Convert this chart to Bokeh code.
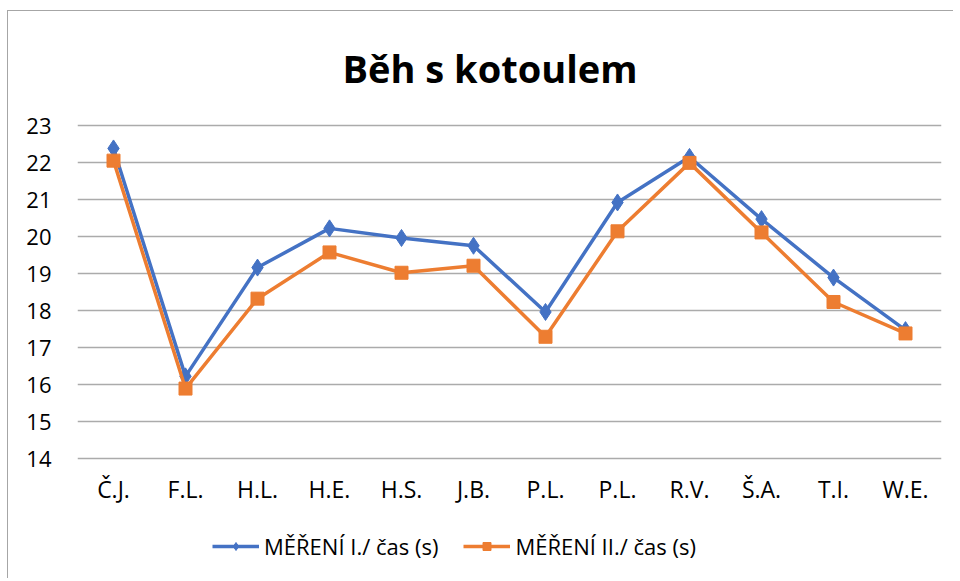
from bokeh.plotting import figure
from bokeh.models import Range1d, FixedTicker, Legend, LegendItem
from bokeh.embed import file_html
from bokeh.resources import INLINE

names = ["Č.J.", "F.L.", "H.L.", "H.E.", "H.S.", "J.B.", "P.L.", "P.L.", "R.V.", "Š.A.", "T.I.", "W.E."]
mereni1 = [22.38, 16.22, 19.16, 20.22, 19.96, 19.75, 17.96, 20.92, 22.15, 20.47, 18.89, 17.47]
mereni2 = [22.05, 15.89, 18.32, 19.57, 19.02, 19.21, 17.29, 20.14, 21.99, 20.11, 18.23, 17.38]
y_ticks = [14, 15, 16, 17, 18, 19, 20, 21, 22, 23]
xs = list(range(len(names)))

FONT = "Open Sans"
BLUE = "#4472C4"
ORANGE = "#ED7D31"
PX_PER_UNIT = 37          # vertical scale of the value axis
FRAME_H = 456             # frame reaches down to hold the legend
PAD = 3 / PX_PER_UNIT     # keeps the top gridline from being clipped
y_end = max(y_ticks) + PAD
y_start = y_end - FRAME_H / PX_PER_UNIT

p = figure(frame_width=864, frame_height=FRAME_H, output_backend="svg", toolbar_location=None,
           x_range=Range1d(-0.5, len(names) - 0.5),
           y_range=Range1d(y_start, y_end),
           min_border_left=69, min_border_right=12, min_border_top=105, min_border_bottom=0)
p.styles = {"border-top": "1px solid #a6a6a6", "border-left": "1px solid #a6a6a6",
            "margin-top": "10px", "margin-left": "7px"}

p.title.text = "Běh s kotoulem"
p.title.align = "left"
p.title.offset = 265
p.title.text_font = FONT
p.title.text_font_size = "38px"
p.title.text_font_style = "bold"
p.title.text_color = "#000000"
p.title.standoff = 57

p.outline_line_color = None
p.xgrid.grid_line_color = None
p.ygrid.grid_line_color = "#ababab"
p.ygrid.grid_line_width = 1.5

p.xaxis.ticker = FixedTicker(ticks=xs)
p.xaxis.major_label_overrides = {i: n for i, n in enumerate(names)}
p.xaxis.fixed_location = min(y_ticks)
p.yaxis.ticker = FixedTicker(ticks=y_ticks)
for ax in (p.xaxis[0], p.yaxis[0]):
    ax.axis_line_color = None
    ax.major_tick_line_color = None
    ax.minor_tick_line_color = None
    ax.major_tick_out = 0
    ax.major_tick_in = 0
    ax.minor_tick_out = 0
    ax.major_label_text_font = FONT
    ax.major_label_text_color = "#000000"
p.yaxis.major_label_text_font_size = "22px"
p.xaxis.major_label_text_font_size = "23px"
p.yaxis.major_label_standoff = 26
p.xaxis.major_label_standoff = 14

l1 = p.line(xs, mereni1, line_color=BLUE, line_width=3.5)
m1 = p.scatter(xs, mereni1, marker="diamond", size=17, fill_color=BLUE, line_color=BLUE)
l2 = p.line(xs, mereni2, line_color=ORANGE, line_width=3.5)
m2 = p.scatter(xs, mereni2, marker="square", size=13, fill_color=ORANGE, line_color=ORANGE)

legend = Legend(items=[LegendItem(label="MĚŘENÍ I./ čas (s)", renderers=[l1, m1]),
                       LegendItem(label="MĚŘENÍ II./ čas (s)", renderers=[l2, m2])],
                orientation="horizontal", location=(135, 17))
legend.label_text_font = FONT
legend.label_text_font_size = "22px"
legend.label_text_color = "#000000"
legend.glyph_width = 47
legend.glyph_height = 20
legend.spacing = 25
legend.label_standoff = 5
legend.border_line_color = None
legend.background_fill_alpha = 0
legend.margin = 0
legend.padding = 0
p.add_layout(legend, "center")

open("out.html", "w").write(file_html(p, INLINE))
